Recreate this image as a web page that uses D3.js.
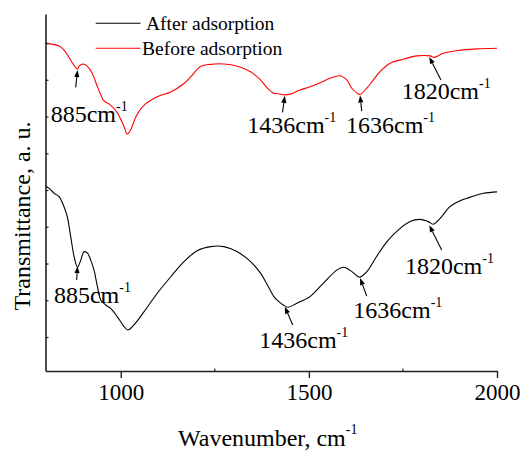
<!DOCTYPE html>
<html>
<head>
<meta charset="utf-8">
<script src="https://cdn.jsdelivr.net/npm/d3@7"></script>
<style>
  html, body { margin: 0; padding: 0; background: #fff; }
  svg { display: block; }
</style>
</head>
<body>
<svg id="chart" width="523" height="451"></svg>
<script>
// FTIR spectra (wavenumber in cm^-1, transmittance in arbitrary units, curves offset)
const afterWn = [800, 809, 823, 836, 849, 858, 867, 876, 885, 894, 902, 911, 920, 929, 938, 947, 960, 973, 991, 1009,
  1019, 1035, 1062, 1097, 1133, 1168, 1203, 1239, 1274, 1310, 1345, 1372, 1390, 1407, 1415, 1432, 1445, 1468, 1503, 1538,
  1574, 1592, 1609, 1631, 1636, 1654, 1680, 1707, 1733, 1769, 1795, 1817, 1831, 1849, 1875, 1902, 1928, 1964, 2000];
const afterT = [41.1, 40.5, 39.1, 38.2, 35.5, 32.7, 27.3, 21.9, 19.0, 21.0, 23.2, 22.9, 21.0, 18.2, 13.7, 10.1, 8.7, 7.8, 5.5, 2.8,
  1.9, 3.3, 6.9, 11.9, 16.4, 20.5, 23.5, 24.6, 24.6, 23.2, 20.5, 17.3, 14.1, 11.0, 10.1, 8.7, 8.1, 9.2, 11.0, 14.6,
  18.2, 19.0, 18.2, 16.4, 16.3, 17.8, 21.9, 25.9, 28.7, 31.4, 32.0, 31.4, 30.7, 32.3, 35.5, 37.1, 38.0, 39.1, 39.5];

const beforeWn = [800, 836, 849, 862, 876, 885, 889, 900, 911, 924, 938, 947, 955, 973, 991, 1009, 1017, 1026, 1040, 1062,
  1097, 1133, 1168, 1186, 1212, 1239, 1274, 1310, 1345, 1372, 1390, 1407, 1419, 1436, 1450, 1476, 1503, 1530, 1556, 1583,
  1601, 1614, 1629, 1636, 1654, 1671, 1689, 1716, 1751, 1787, 1822, 1833, 1857, 1893, 1946, 2000];
const beforeT = [79.9, 79.2, 78.1, 76.2, 73.9, 72.9, 73.7, 74.3, 73.7, 71.8, 68.1, 65.9, 64.3, 63.1, 61.0, 57.2, 55.2, 56.3, 59.9, 63.1,
  65.4, 66.7, 69.0, 70.8, 73.6, 74.2, 74.3, 73.7, 72.2, 69.9, 67.7, 66.3, 66.2, 65.9, 66.1, 67.2, 68.1, 69.2, 70.4, 71.1,
  69.9, 67.7, 66.3, 66.0, 67.7, 69.9, 72.2, 74.5, 75.6, 76.5, 76.5, 76.1, 77.2, 77.9, 78.4, 78.6];

const seriesNames = ["After adsorption", "Before adsorption"];
const xTickValues = [1000, 1500, 2000];
const xMinorTicks = [1250, 1750];
const yTickValues = [0, 10, 20, 30, 40, 50, 60, 70, 80];

// Marked bands: which spectrum, band position (cm^-1)
const bandSeries = ["before", "before", "before", "before", "after", "after", "after", "after"];
const bandWn = [885, 1436, 1636, 1820, 885, 1436, 1636, 1820];

// Placement of each callout relative to the arrow tip (pixels)
const calloutLayout = [
  { gap: 1, tail: [-1.8, 17.2], label: [-26.8, 51.6] },
  { gap: 1, tail: [-2.3, 16.5], label: [-37.5, 37.5] },
  { gap: 1, tail: [1.7, 15.6], label: [-14, 37.9] },
  { gap: 1, tail: [11.7, 23.1], label: [-27.6, 42.4] },
  { gap: -1, tail: [-0.8, 13.8], label: [-23.5, 37.1] },
  { gap: 1, tail: [7.9, 18.3], label: [-25.5, 41.6] },
  { gap: 1, tail: [6.7, 17.9], label: [-6.7, 40.2] },
  { gap: 3, tail: [12.4, 24.8], label: [-24.3, 48.8] }
];

const FONT = "'Liberation Serif'";

const svg = d3.select("#chart");
const x = d3.scaleLinear().domain([800, 2000]).range([45.5, 497]);
const y = d3.scaleLinear().domain([-9.25, 87.9]).range([371, 14]);

const toPoints = (wn, t) => wn.map((w, i) => [w, t[i]]);
const series = {
  after: { pts: toPoints(afterWn, afterT), color: "#000000" },
  before: { pts: toPoints(beforeWn, beforeT), color: "#ff0000" }
};

const line = d3.line().x(d => x(d[0])).y(d => y(d[1])).curve(d3.curveCatmullRom.alpha(0.5));

// Spectra
["after", "before"].forEach(k => {
  svg.append("path")
    .attr("d", line(series[k].pts))
    .attr("fill", "none")
    .attr("stroke", series[k].color)
    .attr("stroke-width", 1.1);
});

// Axes
const axisColor = "#222";
const xAxis = d3.axisBottom(x).tickValues(xTickValues).tickSizeInner(7).tickSizeOuter(0)
  .tickPadding(6).tickFormat(d3.format("d"));
const gx = svg.append("g").attr("transform", `translate(0,${y(-9.25)})`).call(xAxis);
gx.select(".domain").attr("stroke", axisColor).attr("stroke-width", 1.6);
gx.selectAll(".tick line").attr("stroke", axisColor).attr("stroke-width", 1.4);
gx.selectAll(".tick text").style("font-family", FONT).style("font-size", "23px").attr("fill", "#000");
gx.selectAll(".minor").data(xMinorTicks).enter().append("line")
  .attr("x1", d => x(d)).attr("x2", d => x(d)).attr("y1", 0).attr("y2", -2.5)
  .attr("stroke", axisColor).attr("stroke-width", 1.2);

const yAxis = d3.axisLeft(y).tickValues(yTickValues).tickSizeInner(-3).tickSizeOuter(0).tickFormat("");
const gy = svg.append("g").attr("transform", `translate(${x(800)},0)`).call(yAxis);
gy.select(".domain").attr("stroke", axisColor).attr("stroke-width", 1.6);
gy.selectAll(".tick line").attr("stroke", axisColor).attr("stroke-width", 1.2);

// Axis titles
const xt = svg.append("text").attr("x", 178).attr("y", 446)
  .style("font-family", FONT).style("font-size", "24px");
xt.append("tspan").text("Wavenumber, cm");
xt.append("tspan").style("font-size", "14px").attr("dy", -12).text("-1");

svg.append("text")
  .attr("transform", "translate(30,216) rotate(-90)")
  .attr("text-anchor", "middle")
  .style("font-family", FONT).style("font-size", "24px")
  .text("Transmittance, a. u.");

// Legend
const legend = svg.append("g");
[["after", 23.3, 30, 146], ["before", 48.3, 55, 142]].forEach(([k, ly, ty, tx], i) => {
  legend.append("line").attr("x1", 95.7).attr("x2", 140.5).attr("y1", ly).attr("y2", ly)
    .attr("stroke", series[k].color).attr("stroke-width", 1.1);
  legend.append("text").attr("x", tx).attr("y", ty)
    .style("font-family", FONT).style("font-size", "19.5px").text(seriesNames[i]);
});

// Band callouts: arrow to the band on its spectrum, with the band label below
function valueAt(pts, w) {
  const i = d3.bisector(d => d[0]).left(pts, w);
  if (i <= 0) return pts[0][1];
  if (i >= pts.length) return pts[pts.length - 1][1];
  const a = pts[i - 1], b = pts[i];
  return a[1] + (b[1] - a[1]) * (w - a[0]) / (b[0] - a[0]);
}

const callouts = svg.append("g");
bandWn.forEach((w, i) => {
  const lay = calloutLayout[i];
  const tipX = x(w);
  const tipY = y(valueAt(series[bandSeries[i]].pts, w)) + lay.gap;
  const tailX = tipX + lay.tail[0], tailY = tipY + lay.tail[1];
  const ang = Math.atan2(tipY - tailY, tipX - tailX);
  const headLen = 7, headHalf = 2.6;
  const bx = tipX - headLen * Math.cos(ang), by = tipY - headLen * Math.sin(ang);
  const nx = -Math.sin(ang) * headHalf, ny = Math.cos(ang) * headHalf;

  callouts.append("line")
    .attr("x1", tailX).attr("y1", tailY).attr("x2", bx).attr("y2", by)
    .attr("stroke", "#000").attr("stroke-width", 1.1);
  callouts.append("path")
    .attr("d", `M${tipX},${tipY}L${bx + nx},${by + ny}L${bx - nx},${by - ny}Z`)
    .attr("fill", "#000");

  const t = callouts.append("text")
    .attr("x", tipX + lay.label[0]).attr("y", tipY + lay.label[1])
    .style("font-family", FONT).style("font-size", "24px");
  t.append("tspan").text(w + "cm");
  t.append("tspan").style("font-size", "14px").attr("dy", -11).text("-1");
});
</script>
</body>
</html>
